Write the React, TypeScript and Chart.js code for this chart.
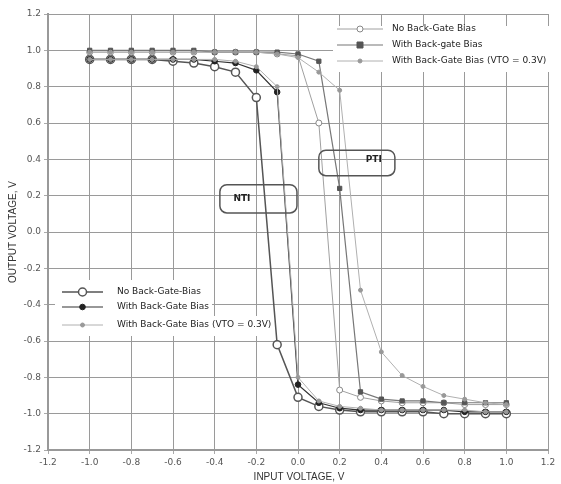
import React, { useEffect, useRef } from "react";
import { Chart, registerables } from "chart.js";
Chart.register(...registerables);

const inputVoltage = [-1.0, -0.9, -0.8, -0.7, -0.6, -0.5, -0.4, -0.3, -0.2, -0.1, 0.0, 0.1, 0.2, 0.3, 0.4, 0.5, 0.6, 0.7, 0.8, 0.9, 1.0];
const ntiNoBias = [0.95, 0.95, 0.95, 0.95, 0.94, 0.93, 0.91, 0.88, 0.74, -0.62, -0.91, -0.96, -0.98, -0.99, -0.99, -0.99, -0.99, -1.0, -1.0, -1.0, -1.0];
const ntiBias = [0.95, 0.95, 0.95, 0.95, 0.95, 0.95, 0.94, 0.93, 0.89, 0.77, -0.84, -0.94, -0.97, -0.98, -0.98, -0.98, -0.98, -0.98, -0.99, -0.99, -0.99];
const ntiBiasVto = [0.95, 0.95, 0.95, 0.95, 0.95, 0.95, 0.95, 0.94, 0.91, 0.8, -0.8, -0.93, -0.96, -0.97, -0.98, -0.98, -0.98, -0.98, -0.98, -0.99, -0.99];
const ptiNoBias = [0.99, 0.99, 0.99, 0.99, 0.99, 0.99, 0.99, 0.99, 0.99, 0.98, 0.97, 0.6, -0.87, -0.91, -0.93, -0.94, -0.94, -0.94, -0.95, -0.95, -0.95];
const ptiBias = [1.0, 1.0, 1.0, 1.0, 1.0, 1.0, 0.99, 0.99, 0.99, 0.99, 0.98, 0.94, 0.24, -0.88, -0.92, -0.93, -0.93, -0.94, -0.94, -0.94, -0.94];
const ptiBiasVto = [0.99, 0.99, 0.99, 0.99, 0.99, 0.99, 0.99, 0.99, 0.99, 0.98, 0.96, 0.88, 0.78, -0.32, -0.66, -0.79, -0.85, -0.9, -0.92, -0.94, -0.95];

const ntiLegend = ["No Back-Gate-Bias", "With Back-Gate Bias", "With Back-Gate Bias (VTO = 0.3V)"];
const ptiLegend = ["No Back-Gate Bias", "With Back-gate Bias", "With Back-Gate Bias (VTO = 0.3V)"];
const xTitle = "INPUT VOLTAGE, V";
const yTitle = "OUTPUT VOLTAGE, V";

const FONT = "'DejaVu Sans', sans-serif";

type Sty = { line: string; lw: number; shape: string; r: number; fill: string; stroke: string; bw: number };
const styles: Sty[] = [
  { line: "#555", lw: 1.5, shape: "circle", r: 4, fill: "#fff", stroke: "#555", bw: 1.5 },
  { line: "#333", lw: 1.2, shape: "circle", r: 2.8, fill: "#222", stroke: "#222", bw: 1 },
  { line: "#b0b0b0", lw: 1, shape: "circle", r: 2, fill: "#999", stroke: "#999", bw: 1 },
  { line: "#a0a0a0", lw: 1, shape: "circle", r: 3, fill: "#fff", stroke: "#888", bw: 1 },
  { line: "#777", lw: 1.2, shape: "rect", r: 3, fill: "#555", stroke: "#555", bw: 1 },
  { line: "#b0b0b0", lw: 1, shape: "circle", r: 2, fill: "#999", stroke: "#999", bw: 1 },
];

function marker(ctx: CanvasRenderingContext2D, s: Sty, x: number, y: number) {
  ctx.beginPath();
  if (s.shape === "rect") ctx.rect(x - s.r, y - s.r, s.r * 2, s.r * 2);
  else ctx.arc(x, y, s.r, 0, Math.PI * 2);
  ctx.fillStyle = s.fill;
  ctx.fill();
  ctx.lineWidth = s.bw;
  ctx.strokeStyle = s.stroke;
  ctx.stroke();
}

function rrect(ctx: CanvasRenderingContext2D, x: number, y: number, w: number, h: number, r: number) {
  ctx.beginPath();
  ctx.moveTo(x + r, y);
  ctx.lineTo(x + w - r, y);
  ctx.arcTo(x + w, y, x + w, y + r, r);
  ctx.lineTo(x + w, y + h - r);
  ctx.arcTo(x + w, y + h, x + w - r, y + h, r);
  ctx.lineTo(x + r, y + h);
  ctx.arcTo(x, y + h, x, y + h - r, r);
  ctx.lineTo(x, y + r);
  ctx.arcTo(x, y, x + r, y, r);
  ctx.closePath();
}

const decor = {
  id: "decor",
  beforeDatasetsDraw(chart: any) {
    const ctx: CanvasRenderingContext2D = chart.ctx;
    ctx.save();
    ctx.fillStyle = "#fff";
    ctx.fillRect(333, 26, 219, 46);
    ctx.fillRect(55, 280, 157, 36);
    ctx.fillRect(55, 316, 222, 20);
    ctx.restore();
  },
  afterDraw(chart: any) {
    const ctx: CanvasRenderingContext2D = chart.ctx;
    const xs = chart.scales.x;
    const ys = chart.scales.y;
    ctx.save();
    // annotation boxes
    const boxes = [
      { label: "NTI", x0: -0.375, x1: -0.005, y0: 0.26, y1: 0.105, tx: -0.31 },
      { label: "PTI", x0: 0.1, x1: 0.465, y0: 0.45, y1: 0.31, tx: 0.325 },
    ];
    for (const b of boxes) {
      const px0 = xs.getPixelForValue(b.x0), px1 = xs.getPixelForValue(b.x1);
      const py0 = ys.getPixelForValue(b.y0), py1 = ys.getPixelForValue(b.y1);
      rrect(ctx, px0, py0, px1 - px0, py1 - py0, 7);
      ctx.strokeStyle = "#555";
      ctx.lineWidth = 1.5;
      ctx.stroke();
      ctx.fillStyle = "#222";
      ctx.font = `bold 9px ${FONT}`;
      ctx.textBaseline = "middle";
      ctx.textAlign = "left";
      ctx.fillText(b.label, xs.getPixelForValue(b.tx), b.label === "NTI" ? (py0 + py1) / 2 : py0 + 9);
    }
    // legends
    ctx.font = `9px ${FONT}`;
    ctx.textBaseline = "middle";
    ctx.textAlign = "left";
    const drawLegend = (labels: string[], sts: Sty[], lx0: number, lx1: number, tx: number, ys0: number[]) => {
      labels.forEach((t, i) => {
        const s = sts[i];
        const y = ys0[i];
        ctx.beginPath();
        ctx.moveTo(lx0, y);
        ctx.lineTo(lx1, y);
        ctx.strokeStyle = s.line;
        ctx.lineWidth = s.lw;
        ctx.stroke();
        marker(ctx, s, (lx0 + lx1) / 2, y);
        ctx.fillStyle = "#222";
        ctx.fillText(t, tx, y);
      });
    };
    drawLegend(ntiLegend, styles.slice(0, 3), 62, 103, 117, [292, 307, 325]);
    drawLegend(ptiLegend, styles.slice(3, 6), 337, 383, 392, [29, 45, 61]);
    // axis titles
    ctx.fillStyle = "#333";
    ctx.font = `10px 'Liberation Sans', sans-serif`;
    ctx.textAlign = "center";
    ctx.fillText(xTitle, 299, 477);
    ctx.translate(13, 232);
    ctx.rotate(-Math.PI / 2);
    ctx.fillText(yTitle, 0, 0);
    ctx.restore();
  },
};

const seriesList = [ntiNoBias, ntiBias, ntiBiasVto, ptiNoBias, ptiBias, ptiBiasVto];
const seriesNames = [...ntiLegend.map((n) => "NTI " + n), ...ptiLegend.map((n) => "PTI " + n)];

export default function App() {
  const ref = useRef<HTMLCanvasElement>(null);
  useEffect(() => {
    if (!ref.current) return;
    const fmt = (v: any) => {
      const n = Number(v);
      return (Math.abs(n) < 1e-9 ? 0 : n).toFixed(1);
    };
    const axisBase = {
      type: "linear" as const,
      min: -1.2,
      max: 1.2,
      ticks: { stepSize: 0.2, color: "#555", font: { family: FONT, size: 9 }, callback: fmt, padding: 3 },
      grid: { color: "#9a9a9a", lineWidth: 1, tickLength: 4, tickColor: "#aaa" },
      border: { color: "#999", width: 2 },
    };
    const chart = new Chart(ref.current, {
      type: "scatter",
      data: {
        datasets: seriesList.map((vals, i) => {
          const s = styles[i];
          return {
            label: seriesNames[i],
            data: inputVoltage.map((x, k) => ({ x, y: vals[k] })),
            showLine: true,
            borderColor: s.line,
            borderWidth: s.lw,
            pointStyle: s.shape === "rect" ? "rect" : "circle",
            pointRadius: s.r,
            pointBackgroundColor: s.fill,
            pointBorderColor: s.stroke,
            pointBorderWidth: s.bw,
            order: 6 - i,
          };
        }),
      },
      options: {
        animation: false,
        responsive: true,
        maintainAspectRatio: false,
        layout: { padding: { top: 14, right: 13, left: 0, bottom: 0 } },
        plugins: { legend: { display: false }, tooltip: { enabled: false } },
        scales: {
          x: { ...axisBase, afterFit: (s: any) => { s.height = 34; } },
          y: { ...axisBase, afterFit: (s: any) => { s.width = 48; } },
        },
      },
      plugins: [decor],
    });
    return () => chart.destroy();
  }, []);
  return (
    <div style={{ position: "absolute", left: 0, top: 0, width: 561, height: 484, background: "#fff" }}>
      <canvas ref={ref} />
    </div>
  );
}
